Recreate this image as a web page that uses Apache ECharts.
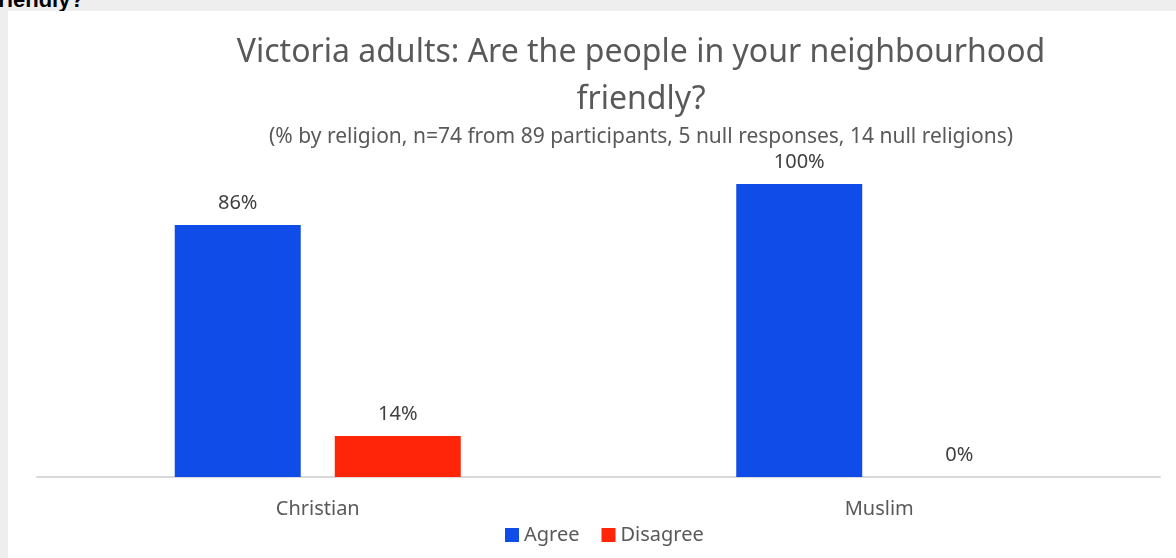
<!DOCTYPE html>
<html>
<head>
<meta charset="utf-8">
<script src="https://cdn.jsdelivr.net/npm/echarts@6/dist/echarts.min.js"></script>
<style>
  html, body { margin: 0; padding: 0; }
  body { width: 1176px; height: 558px; background: #eeeeee; position: relative; overflow: hidden; }
  #heading { position: absolute; left: -9px; top: -13px; font: bold 22px "Liberation Sans", Arial, sans-serif; color: #000; white-space: nowrap; }
  #chart { position: absolute; left: 8px; top: 11px; width: 1168px; height: 547px; background: #ffffff; }
</style>
</head>
<body>
<div id="heading">friendly?</div>
<div id="chart"></div>
<script>
// Share of respondents by religion
const categories = ['Christian', 'Muslim'];
const seriesNames = ['Agree', 'Disagree'];
const agreeValues = [86, 100];
const disagreeValues = [14, 0];

const FONT = '"Noto Sans", "Open Sans", sans-serif';
const colors = ['#0f4ce8', '#ff2508'];

const chart = echarts.init(document.getElementById('chart'));

function barSeries(name, values, color) {
  return {
    name: name,
    type: 'bar',
    data: values,
    barWidth: 126,
    barGap: '27%',
    itemStyle: { color: color },
    label: {
      show: true,
      position: 'top',
      distance: 12,
      formatter: '{c}%',
      fontFamily: FONT,
      fontSize: 20,
      color: '#404040'
    }
  };
}

chart.setOption({
  animation: false,
  title: [
    {
      text: 'Victoria adults: Are the people in your neighbourhood\nfriendly?',
      left: 628,
      textAlign: 'center',
      top: 13,
      textStyle: { fontFamily: FONT, fontSize: 32, fontWeight: 'normal', color: '#595959', lineHeight: 47 }
    },
    {
      text: '(% by religion, n=74 from 89 participants, 5 null responses, 14 null religions)',
      left: 628,
      textAlign: 'center',
      top: 109,
      textStyle: { fontFamily: FONT, fontSize: 21, fontWeight: 'normal', color: '#595959', lineHeight: 24 }
    }
  ],
  legend: {
    data: seriesNames,
    bottom: 8,
    left: 492,
    itemWidth: 14,
    itemHeight: 14,
    itemGap: 22,
    icon: 'rect',
    textStyle: { fontFamily: FONT, fontSize: 20, color: '#595959' }
  },
  grid: { left: 29, right: 16, top: 173, bottom: 81 },
  xAxis: {
    type: 'category',
    data: categories,
    axisLine: { lineStyle: { color: '#d9d9d9', width: 2 } },
    axisTick: { show: false },
    axisLabel: { fontFamily: FONT, fontSize: 20, color: '#595959', margin: 22 }
  },
  yAxis: {
    type: 'value',
    min: 0,
    max: 100,
    show: false,
    splitLine: { show: false }
  },
  series: [
    barSeries(seriesNames[0], agreeValues, colors[0]),
    barSeries(seriesNames[1], disagreeValues, colors[1])
  ]
});
</script>
</body>
</html>
